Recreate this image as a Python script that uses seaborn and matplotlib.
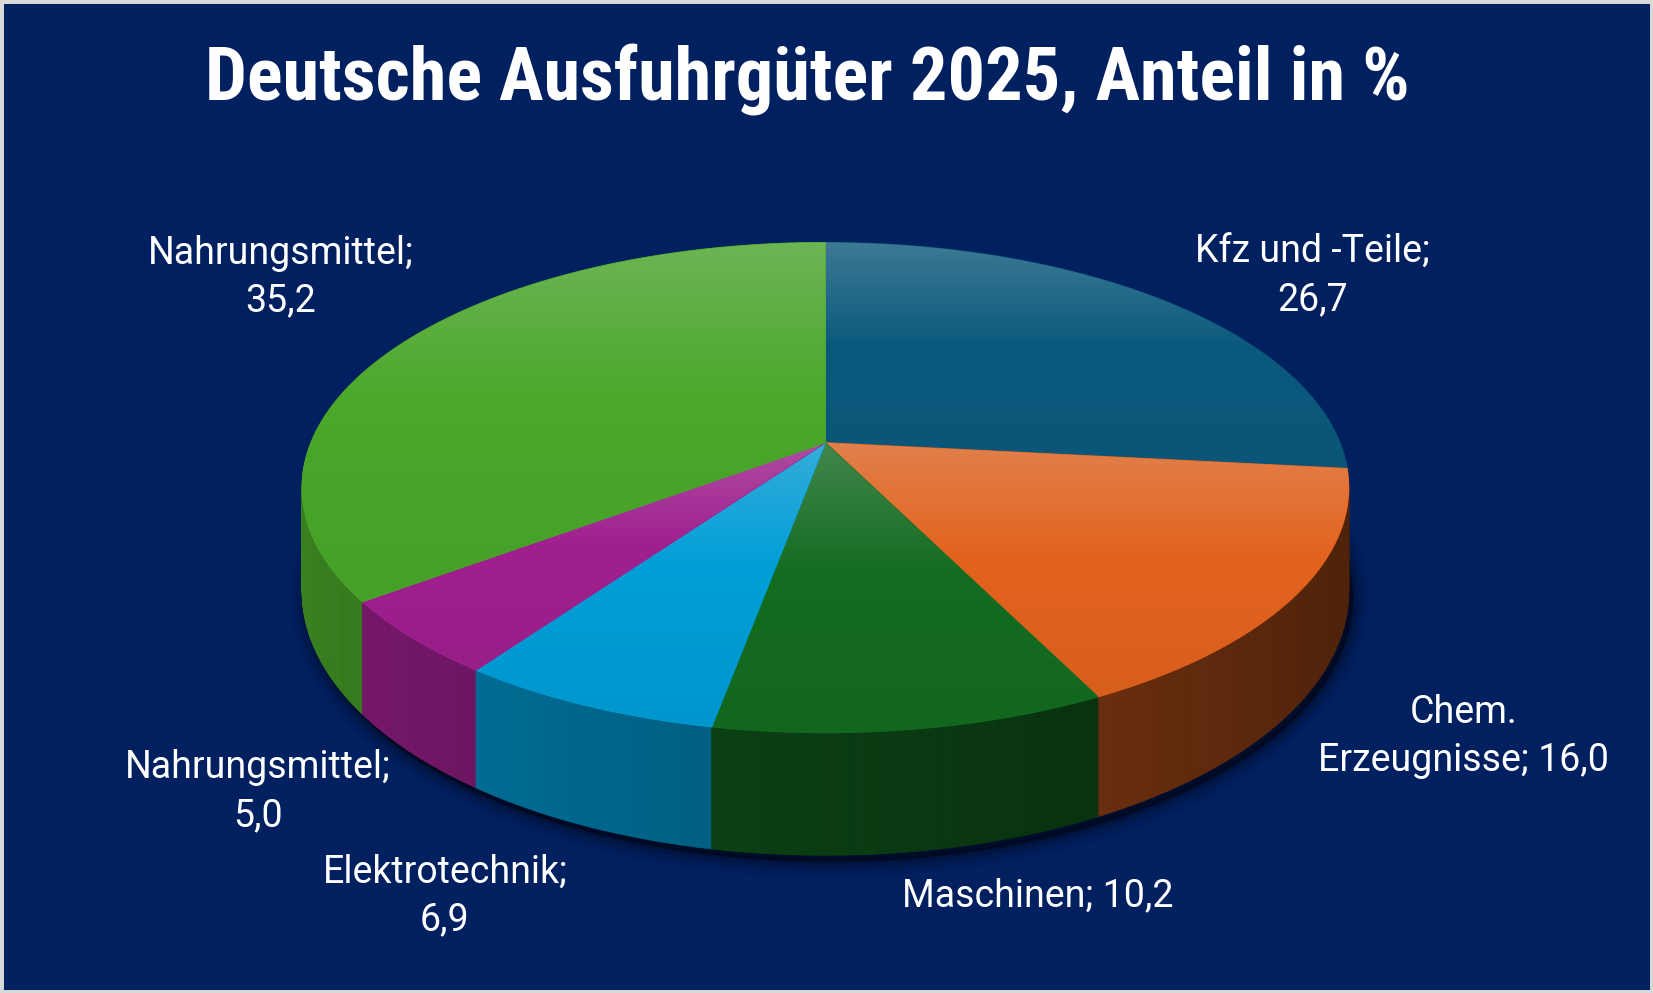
import textwrap
import numpy as np
import matplotlib
matplotlib.use("Agg")
import matplotlib.pyplot as plt
from matplotlib import font_manager
from matplotlib.patches import Polygon, Rectangle
from matplotlib.collections import PolyCollection
from matplotlib.colors import to_rgb
import seaborn as sns

# data (clockwise from 12 o'clock)
categories = ["Kfz und -Teile", "Chem. Erzeugnisse", "Maschinen",
              "Elektrotechnik", "Nahrungsmittel", "Nahrungsmittel"]
shares = [26.7, 16.0, 10.2, 6.9, 5.0, 35.2]
title = "Deutsche Ausfuhrgüter 2025, Anteil in %"

# colours
BG = "#002060"
slice_colors = ["#0B5A7E", "#E3631E", "#136C20", "#009ED8", "#A0208F", "#4AA82A"]

# layout, in pixels of a 1568 x 942 canvas
W, H = 1568, 942
CX, CY = 783, 420          # apex of the pie
A, B = 488, 224.7          # half axes of the top disc
P = 0.183                  # perspective strength
D = 95                     # height of the pie wall
label_xy = [(1245, 262), (1388, 699), (984, 850), (422, 850), (245, 751), (266, 263)]
wrap_width = [15, 17, 20, 15, 15, 15]
TITLE_W = 1143             # width of the title on the canvas


def project(theta):
    t = np.radians(theta)
    u = np.sin(t)
    w = -np.cos(t)
    s = 1.0 / (1.0 - P * w)
    return CX + A * u * s, CY + B * w * s, s, u, w


def mix(c1, c2, k):
    return tuple((1 - k) * a + k * b for a, b in zip(c1, c2))


sns.set_theme(style="white")
plt.rcParams["font.family"] = ["Roboto", "DejaVu Sans"]

fig = plt.figure(figsize=(16.53, 9.93), dpi=100, facecolor=BG)
ax = fig.add_axes([0, 0, 1, 1])
ax.set_facecolor(BG)
ax.set_xlim(0, W)
ax.set_ylim(H, 0)
ax.set_autoscale_on(False)
ax.axis("off")

# slice angles
bounds = np.concatenate([[0], np.cumsum(shares)]) / sum(shares) * 360

# shadow under the pie
full = np.linspace(0, 360, 721)
fx, fy, fs, _, _ = project(full)
bottom = np.column_stack([fx + 4, fy + D * fs + 6])
for lw, al in [(22, 0.07), (14, 0.09), (8, 0.12), (3, 0.18)]:
    ax.add_patch(Polygon(bottom, closed=True, facecolor="black", edgecolor="black",
                         lw=lw, alpha=al, joinstyle="round"))

# outer walls
quads, cols, depth = [], [], []
for i in range(len(shares)):
    base = np.array(to_rgb(slice_colors[i]))
    th = np.arange(bounds[i], bounds[i + 1], 0.5)
    th = np.append(th, bounds[i + 1])
    x, y, s, u, w = project(th)
    yb = y + D * s
    for j in range(len(th) - 1):
        quads.append([(x[j], y[j]), (x[j + 1], y[j + 1]), (x[j + 1], yb[j + 1]), (x[j], yb[j])])
        f = 0.56 - 0.22 * (u[j] + u[j + 1]) / 2
        cols.append(tuple(np.clip(base * f, 0, 1)))
        depth.append((w[j] + w[j + 1]) / 2)
order = np.argsort(depth)
walls = PolyCollection([quads[k] for k in order], facecolors=[cols[k] for k in order],
                       edgecolors=[cols[k] for k in order], linewidths=0.6)
ax.add_collection(walls)

# top faces with a soft vertical gradient
light = (0.86, 0.86, 0.86)
for i in range(len(shares)):
    base = to_rgb(slice_colors[i])
    th = np.linspace(bounds[i], bounds[i + 1], 200)
    x, y, _, _, _ = project(th)
    pts = np.vstack([[CX, CY], np.column_stack([x, y])])
    poly = Polygon(pts, closed=True, facecolor=base, edgecolor=base, lw=0.8)
    ax.add_patch(poly)
    y0, y1 = pts[:, 1].min(), pts[:, 1].max()
    x0, x1 = pts[:, 0].min(), pts[:, 0].max()
    t = np.linspace(0, 1, 256)
    grad = np.zeros((256, 1, 3))
    for r, tv in enumerate(t):
        if tv < 0.45:
            c = mix(mix(base, light, 0.24), base, tv / 0.45)
        else:
            c = mix(base, tuple(0.95 * v for v in base), (tv - 0.45) / 0.55)
        grad[r, 0] = c
    im = ax.imshow(grad, extent=(x0, x1, y1, y0), origin="upper", aspect="auto",
                   interpolation="bilinear", zorder=poly.get_zorder())
    im.set_clip_path(poly)

# data labels
for i, (cat, val) in enumerate(zip(categories, shares)):
    txt = f"{cat}; " + f"{val:.1f}".replace(".", ",")
    txt = textwrap.fill(txt, width=wrap_width[i])
    lx, ly = label_xy[i]
    ax.text(lx, ly, txt, ha="center", va="center", multialignment="center",
            color="white", fontsize=27, linespacing=1.38)

# title: pick a narrow heavy face if one is installed, then fit the width
names = {f.name for f in font_manager.fontManager.ttflist}
title_family = "Roboto"
for cand in ["Liberation Sans Narrow", "Roboto Condensed", "DejaVu Sans Condensed",
             "Open Sans Condensed", "Noto Sans Condensed"]:
    if cand in names:
        title_family = cand
        break
ttl = ax.text(766, 95, title, ha="center", va="baseline", color="white", fontsize=50,
              fontweight="black", family=[title_family, "DejaVu Sans"])
fig.canvas.draw()
bb = ttl.get_window_extent()
target = TITLE_W * fig.bbox.width / W
ttl.set_fontsize(min(58, 50 * target / bb.width))

# light frame
fig.add_artist(Rectangle((0, 0), 1, 1, transform=fig.transFigure, fill=False,
                         edgecolor="#D9D9D9", lw=5))

fig.savefig("out.png", dpi=100, facecolor=BG)
